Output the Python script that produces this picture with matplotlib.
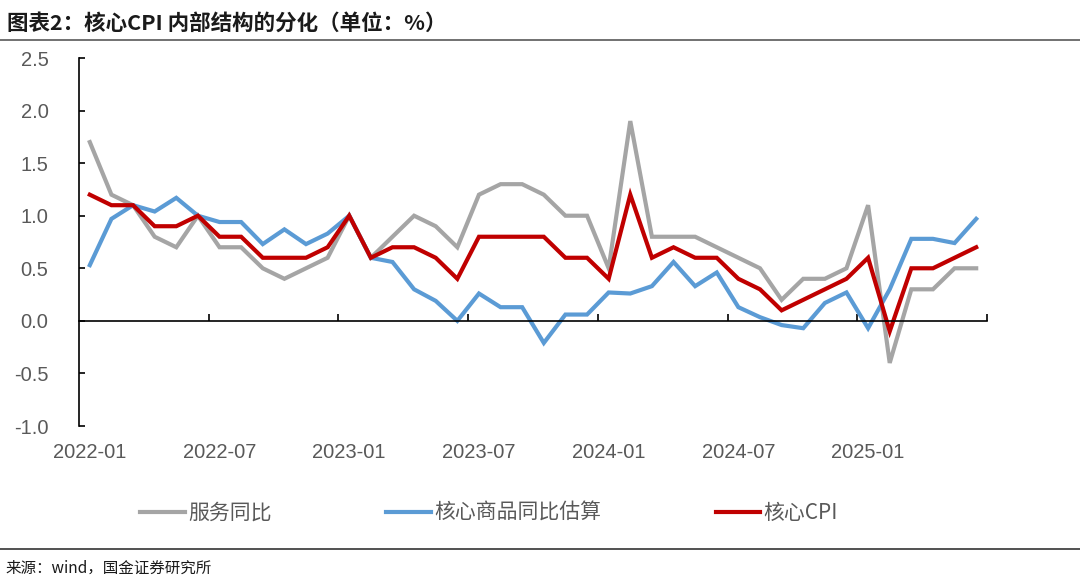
import matplotlib
matplotlib.use("Agg")
import matplotlib.pyplot as plt
from matplotlib.lines import Line2D
import pandas as pd

plt.rcParams["font.family"] = ["Liberation Sans", "Noto Sans CJK SC", "DejaVu Sans"]

# months 2022-01 .. 2025-06
months = [p.strftime("%Y-%m") for p in pd.period_range("2022-01", "2025-06", freq="M")]

services_yoy = [1.7, 1.2, 1.1, 0.8, 0.7, 1.0, 0.7, 0.7, 0.5, 0.4, 0.5, 0.6,
                1.0, 0.6, 0.8, 1.0, 0.9, 0.7, 1.2, 1.3, 1.3, 1.2, 1.0, 1.0,
                0.5, 1.9, 0.8, 0.8, 0.8, 0.7, 0.6, 0.5, 0.2, 0.4, 0.4, 0.5,
                1.1, -0.4, 0.3, 0.3, 0.5, 0.5]
core_goods_est = [0.53, 0.97, 1.1, 1.04, 1.17, 1.0, 0.94, 0.94, 0.73, 0.87, 0.73, 0.83,
                  1.0, 0.6, 0.56, 0.30, 0.19, 0.0, 0.26, 0.13, 0.13, -0.21, 0.06, 0.06,
                  0.27, 0.26, 0.33, 0.56, 0.33, 0.46, 0.13, 0.035, -0.04, -0.07, 0.17, 0.27,
                  -0.07, 0.30, 0.78, 0.78, 0.74, 0.97]
core_cpi = [1.2, 1.1, 1.1, 0.9, 0.9, 1.0, 0.8, 0.8, 0.6, 0.6, 0.6, 0.7,
            1.0, 0.6, 0.7, 0.7, 0.6, 0.4, 0.8, 0.8, 0.8, 0.8, 0.6, 0.6,
            0.4, 1.2, 0.6, 0.7, 0.6, 0.6, 0.4, 0.3, 0.1, 0.2, 0.3, 0.4,
            0.6, -0.1, 0.5, 0.5, 0.6, 0.7]

series_names = ["服务同比", "核心商品同比估算", "核心CPI"]
colors = ["#A5A5A5", "#5B9BD5", "#C00000"]
yticks = [-1.0, -0.5, 0.0, 0.5, 1.0, 1.5, 2.0, 2.5]
label_gray = "#595959"

fig = plt.figure(figsize=(10.8, 5.88), dpi=100)
ax = fig.add_axes([79 / 1080, 1 - 426 / 588, 908 / 1080, 368 / 588])

x = list(range(len(months)))
for vals, c in zip([services_yoy, core_goods_est, core_cpi], colors):
    ax.plot(x, vals, color=c, lw=3.0, solid_joinstyle="miter")

ax.set_xlim(-0.5, len(months) - 0.5)
ax.set_ylim(-1.0, 2.5)

# y axis
ax.set_yticks(yticks)
ax.set_yticklabels([f"{v:.1f}" for v in yticks])
ax.tick_params(axis="y", direction="in", length=4, width=1.2, pad=22,
               labelsize=14.5, labelcolor=label_gray)

# x axis line through zero, ticks every 6 months at category boundaries
for s in ["top", "right"]:
    ax.spines[s].set_visible(False)
ax.spines["left"].set_linewidth(1.2)
ax.spines["bottom"].set_position(("data", 0))
ax.spines["bottom"].set_linewidth(1.2)
ax.set_xticks([i - 0.5 for i in range(6, len(months) + 1, 6)])
ax.tick_params(axis="x", direction="in", length=5, width=1.2, labelbottom=False)

# month labels at the bottom of the axes
sec = ax.secondary_xaxis("bottom")
sec.set_xticks(x[::6])
sec.set_xticklabels(months[::6])
sec.tick_params(length=0, pad=12, labelsize=14.5, labelcolor=label_gray)
sec.spines["bottom"].set_visible(False)

# legend
handles = [Line2D([], [], color=c, lw=3.0) for c in colors]
fig.legend(handles, series_names, loc="center left", bbox_to_anchor=(140 / 1080, 1 - 513 / 588),
           ncol=3, frameon=False, handlelength=2.15, handletextpad=0.15,
           columnspacing=5.5, borderpad=0, borderaxespad=0, labelcolor=label_gray,
           prop={"family": ["Noto Sans CJK SC", "DejaVu Sans"], "size": 15})

# title, separators, source
fig.text(7 / 1080, 1 - 23 / 588, "图表2：核心CPI 内部结构的分化（单位：%）",
         family=["Noto Sans CJK SC", "DejaVu Sans"], fontsize=15.5, fontweight="bold",
         va="center", ha="left", color="#1a1a1a")
fig.add_artist(Line2D([0, 1], [1 - 40 / 588, 1 - 40 / 588], color="#595959", lw=1.2))
fig.add_artist(Line2D([0, 1], [1 - 549 / 588, 1 - 549 / 588], color="#333333", lw=1.2))
fig.text(5 / 1080, 1 - 568 / 588, "来源：wind，国金证券研究所",
         family=["Noto Sans CJK SC", "DejaVu Sans"], fontsize=11.2,
         va="center", ha="left", color="#1a1a1a")

fig.savefig("out.png", dpi=100)
